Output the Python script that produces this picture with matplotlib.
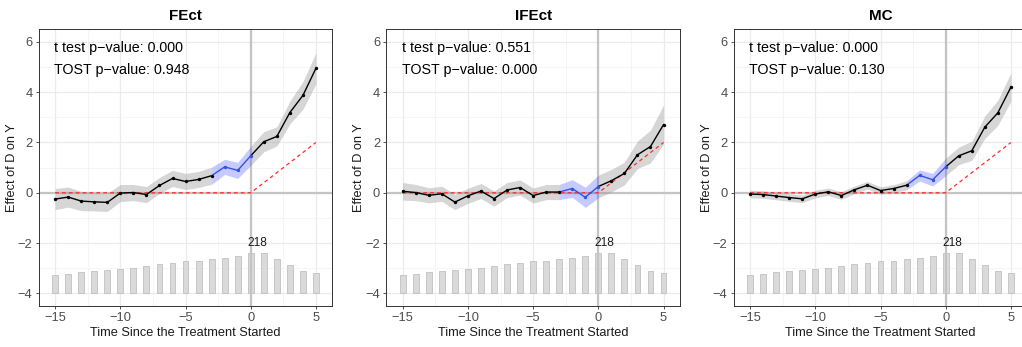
import matplotlib.pyplot as plt
from matplotlib.ticker import MultipleLocator
import numpy as np

plt.rcParams['font.family'] = ['Liberation Sans', 'DejaVu Sans']

# event time (periods since treatment started)
periods = list(range(-15, 6))

# number of treated observations at each period (bars at the bottom)
counts = [97, 104, 115, 122, 126, 131, 135, 148, 158, 166, 173, 178,
          184, 191, 202, 218, 218, 184, 153, 124, 110]

# estimated effects per estimator
att_fect = [-0.25, -0.17, -0.33, -0.36, -0.38, -0.01, 0.01, -0.07, 0.29, 0.57,
            0.45, 0.53, 0.68, 1.03, 0.89, 1.47, 2.03, 2.24, 3.19, 3.87, 4.95]
att_ifect = [0.06, 0.01, -0.10, -0.04, -0.37, -0.12, 0.07, -0.23, 0.11, 0.21,
             -0.11, 0.03, 0.03, 0.17, -0.18, 0.25, 0.48, 0.77, 1.51, 1.84, 2.71]
att_mc = [-0.05, -0.07, -0.13, -0.19, -0.24, -0.05, 0.04, -0.11, 0.12, 0.30,
          0.09, 0.17, 0.30, 0.69, 0.52, 1.03, 1.47, 1.67, 2.61, 3.18, 4.20]

# half width of the confidence band
ci_fect = [0.42, 0.40, 0.38, 0.36, 0.36, 0.34, 0.32, 0.32, 0.32, 0.32,
           0.32, 0.32, 0.34, 0.30, 0.32, 0.38, 0.40, 0.38, 0.45, 0.55, 0.62]
ci_ifect = [0.35, 0.32, 0.30, 0.30, 0.30, 0.30, 0.30, 0.30, 0.30, 0.30,
            0.30, 0.30, 0.30, 0.35, 0.40, 0.45, 0.45, 0.45, 0.55, 0.65, 0.78]
ci_mc = [0.15, 0.15, 0.15, 0.15, 0.15, 0.15, 0.15, 0.15, 0.15, 0.15,
         0.15, 0.15, 0.18, 0.22, 0.25, 0.35, 0.35, 0.38, 0.45, 0.50, 0.56]

# true effect used for the simulation (red dashed)
true_effect = [0.0] * 16 + [0.4, 0.8, 1.2, 1.6, 2.0]

titles = ["FEct", "IFEct", "MC"]
t_pvals = ["0.000", "0.551", "0.000"]
tost_pvals = ["0.948", "0.000", "0.130"]
placebo_start, placebo_end = -3, 0


def draw_panel(ax, title, att, ci, t_p, tost_p):
    x = np.array(periods)
    y = np.array(att)
    hw = np.array(ci)
    pre = x <= placebo_start
    plc = (x >= placebo_start) & (x <= placebo_end)
    post = x >= placebo_end

    ax.set_xlim(-16.25, 6.25)
    ax.set_ylim(-4.5, 6.5)

    # grid in the style of theme_bw
    ax.xaxis.set_major_locator(MultipleLocator(5))
    ax.xaxis.set_minor_locator(MultipleLocator(2.5))
    ax.yaxis.set_major_locator(MultipleLocator(2))
    ax.yaxis.set_minor_locator(MultipleLocator(1))
    ax.grid(which='major', color='#ebebeb', linewidth=0.9, zorder=0)
    ax.grid(which='minor', color='#f2f2f2', linewidth=0.5, zorder=0)
    ax.set_axisbelow(True)

    # bars of treated counts
    heights = np.array(counts) / max(counts) * 1.6
    ax.bar(x, heights, bottom=-4, width=0.45, color='#dadada',
           edgecolor='#b8b8b8', linewidth=0.5, zorder=1)
    cmax = max(counts)
    xmax = np.mean([p for p, c in zip(periods, counts) if c == cmax])
    ax.text(xmax, -2.0, str(cmax), ha='center', va='center', fontsize=8.6,
            color='#1a1a1a')

    ax.axhline(0, color='#c4c4c4', linewidth=1.6, zorder=1.5)
    ax.axvline(0, color='#c4c4c4', linewidth=1.6, zorder=1.5)

    # confidence bands
    ax.fill_between(x[pre], (y - hw)[pre], (y + hw)[pre], color='#999999',
                    alpha=0.4, linewidth=0, zorder=2)
    ax.fill_between(x[post], (y - hw)[post], (y + hw)[post], color='#999999',
                    alpha=0.4, linewidth=0, zorder=2)
    ax.fill_between(x[plc], (y - hw)[plc], (y + hw)[plc], color='#3344ff',
                    alpha=0.28, linewidth=0, zorder=2)

    ax.plot(x, true_effect, color='#ff2a2a', linestyle=(0, (3, 2.5)),
            linewidth=0.9, zorder=3)

    ax.plot(x[pre], y[pre], color='black', linewidth=1.0, zorder=4)
    ax.plot(x[post], y[post], color='black', linewidth=1.0, zorder=4)
    ax.plot(x[plc], y[plc], color='#3355dd', linewidth=1.0, zorder=4)
    ax.scatter(x[~plc | (x == placebo_start)], y[~plc | (x == placebo_start)],
               s=6, color='black', zorder=5, linewidths=0)
    ax.scatter(x[plc & (x != placebo_start)], y[plc & (x != placebo_start)],
               s=6, color='#3355dd', zorder=5, linewidths=0)

    ax.text(-15.05, 5.74, "t test p\u2212value: " + t_p, fontsize=10.3,
            ha='left', va='center', color='black')
    ax.text(-15.05, 4.9, "TOST p\u2212value: " + tost_p, fontsize=10.3,
            ha='left', va='center', color='black')

    ax.set_title(title, fontsize=11, fontweight='bold', pad=7)
    ax.set_xlabel("Time Since the Treatment Started", fontsize=9.2,
                  labelpad=2, color='#1a1a1a')
    ax.set_ylabel("Effect of D on Y", fontsize=9.2, labelpad=0,
                  color='#1a1a1a')
    ax.tick_params(which='major', length=2.5, width=0.6, color='#333333',
                   labelsize=9.3, labelcolor='#4d4d4d', pad=2)
    ax.tick_params(which='minor', length=0)
    for s in ax.spines.values():
        s.set_color('#333333')
        s.set_linewidth(0.7)
    # R style minus in tick labels
    ax.set_xticks([-15, -10, -5, 0, 5])
    ax.set_xticklabels(["\u221215", "\u221210", "\u22125", "0", "5"])
    ax.set_yticks([-4, -2, 0, 2, 4, 6])
    ax.set_yticklabels(["\u22124", "\u22122", "0", "2", "4", "6"])


fig = plt.figure(figsize=(10.22, 3.47), dpi=100)
lefts = [0.0380, 0.3781, 0.7180]
atts = [att_fect, att_ifect, att_mc]
cis = [ci_fect, ci_ifect, ci_mc]
for i in range(3):
    ax = fig.add_axes([lefts[i], 0.1182, 0.2871, 0.7974])
    draw_panel(ax, titles[i], atts[i], cis[i], t_pvals[i], tost_pvals[i])

fig.savefig("out.png", dpi=100)
